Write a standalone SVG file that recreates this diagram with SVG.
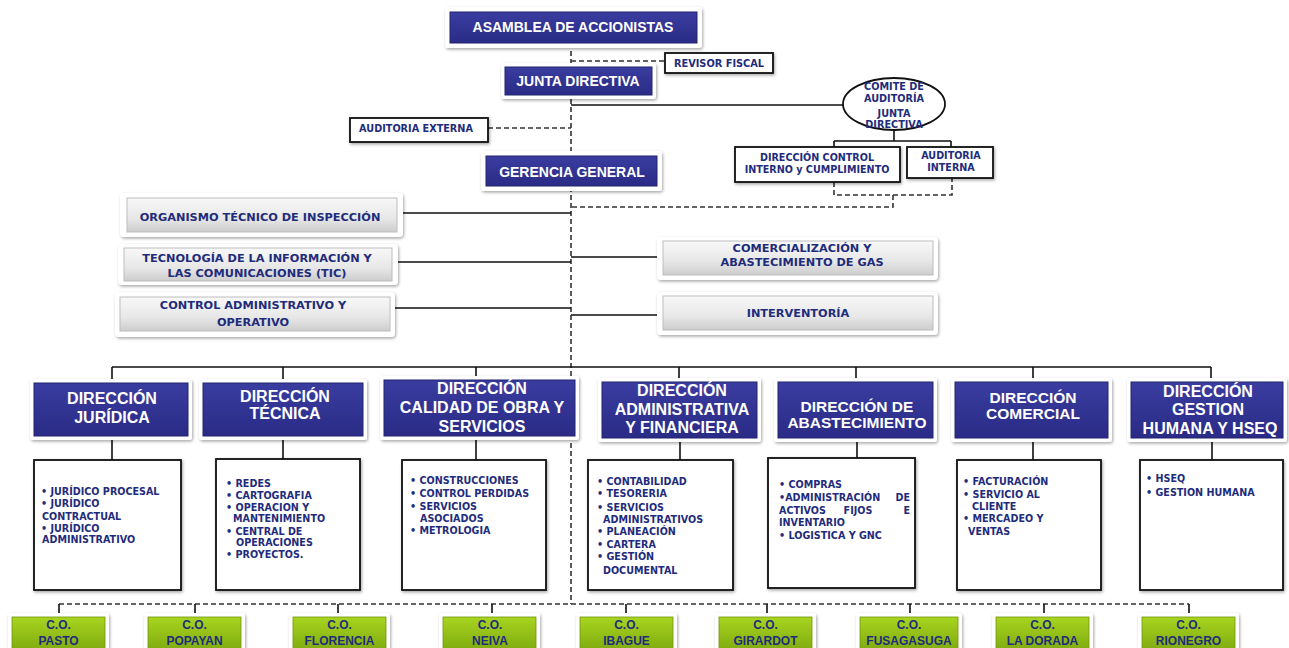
<svg xmlns="http://www.w3.org/2000/svg" width="1289" height="648" viewBox="0 0 1289 648">
<defs>
<linearGradient id="gb" x1="0" y1="0" x2="0" y2="1"><stop offset="0" stop-color="#3a3da0"/><stop offset="1" stop-color="#2a2b86"/></linearGradient>
<linearGradient id="gg" x1="0" y1="0" x2="0" y2="1"><stop offset="0" stop-color="#f8f8f8"/><stop offset="0.6" stop-color="#e7e7e7"/><stop offset="1" stop-color="#cdcdcd"/></linearGradient>
<linearGradient id="gr" x1="0" y1="0" x2="0" y2="1"><stop offset="0" stop-color="#a8d420"/><stop offset="1" stop-color="#7ca80e"/></linearGradient>
<filter id="sh" x="-10%" y="-20%" width="120%" height="150%"><feDropShadow dx="1" dy="1.5" stdDeviation="1.5" flood-color="#000" flood-opacity="0.35"/></filter>
</defs>
<style>
.a{font-family:"Liberation Sans",Arial,sans-serif;font-weight:bold}
.d{font-family:"DejaVu Sans",Verdana,sans-serif;font-weight:bold}
.w{fill:#fff}
.n{fill:#1f2c7c}
.m{text-anchor:middle}
.e{text-anchor:end}
.ln{stroke:#111;stroke-width:1.6;fill:none}
.ds{stroke:#333;stroke-width:1.6;stroke-dasharray:5 3;fill:none}
.bx{fill:#fff;stroke:#111;stroke-width:1.8;filter:url(#sh)}
.fr{fill:#fff;filter:url(#sh)}
.bl{fill:url(#gb);stroke:#23256e;stroke-width:1}
.gy{fill:url(#gg);stroke:#bdbdbd;stroke-width:1}
.gn{fill:url(#gr);stroke:#6f960c;stroke-width:0.8}
.s{font-size:9.6px}
.g{font-size:11.3px}
.b{font-size:16px}
.c{font-size:12px}
</style>
<rect width="1289" height="648" fill="#fff"/>
<g id="connectors">
<path class="ds" d="M571 43V604"/>
<path class="ds" d="M571 61H665"/>
<path class="ds" d="M488 128H571"/>
<path class="ds" d="M834 182V195H952V178M893 195V207H571"/>
<path class="ds" d="M59 604H1189"/>
<path class="ln" d="M571 105H843"/>
<path class="ln" d="M894 130V141M834 141H951M834 141V147M951 141V147"/>
<path class="ln" d="M403 213H571M398 262H571M395 308H571M571 257H657M571 315H657"/>
<path class="ln" d="M112 367H1211M112 367V379M283 367V379M476 367V377M679 367V378M856 367V378M1033 367V378M1211 367V378"/>
<path class="ln" d="M112 440V460M283 440V459M476 440V460M680 442V460M857 442V458M1033 442V460M1212 442V460"/>
<path class="ln" stroke-width="2.2" d="M59 604V613M195 604V613M338 604V613M492 604V613M626 604V613M767 604V613M910 604V613M1044 604V613M1189 604V613"/>
</g>
<g id="asamblea"><rect class="fr" x="445" y="7" width="257" height="41" rx="3"/><rect class="bl" x="450" y="12" width="247" height="31"/><text class="a w m" x="573" y="32" font-size="14">ASAMBLEA DE ACCIONISTAS</text></g>
<g id="revisor"><rect class="bx" x="665" y="53" width="108" height="20"/><text class="d n m" x="719" y="66.5" font-size="9.8">REVISOR FISCAL</text></g>
<g id="junta"><rect class="fr" x="501" y="63" width="155" height="36" rx="3"/><rect class="bl" x="505" y="67" width="147" height="28"/><text class="a w m" x="578" y="86" font-size="14">JUNTA DIRECTIVA</text></g>
<g id="comite"><ellipse cx="894" cy="104" rx="51" ry="26" fill="#fff" stroke="#111" stroke-width="1.8"/><text class="d n m" font-size="9.7"><tspan x="894" y="89.5">COMITE DE</tspan><tspan x="894" y="101.5">AUDITORÍA</tspan><tspan x="894" y="116.5">JUNTA</tspan><tspan x="894" y="127.5">DIRECTIVA</tspan></text></g>
<g id="auditoria-externa"><rect class="bx" x="350" y="118" width="138" height="24"/><text class="d n m" x="416" y="131.5" font-size="9.7">AUDITORIA EXTERNA</text></g>
<g id="control-interno"><rect class="bx" x="735" y="147" width="165" height="35"/><text class="d n m" font-size="9.6"><tspan x="817" y="160.5">DIRECCIÓN CONTROL</tspan><tspan x="817" y="172.5">INTERNO y CUMPLIMIENTO</tspan></text></g>
<g id="auditoria-interna"><rect class="bx" x="907" y="147" width="86" height="31"/><text class="d n m" font-size="9.6"><tspan x="951" y="158.5">AUDITORIA</tspan><tspan x="951" y="170.5">INTERNA</tspan></text></g>
<g id="gerencia"><rect class="fr" x="481" y="151" width="181" height="40" rx="3"/><rect class="bl" x="486" y="156" width="171" height="30"/><text class="a w m" x="572" y="177" font-size="14">GERENCIA GENERAL</text></g>
<g id="organismo"><rect class="fr" x="120" y="193" width="283" height="44" rx="4"/><rect class="gy" x="127" y="198" width="270" height="34"/><text class="d n m g" x="260" y="221">ORGANISMO TÉCNICO DE INSPECCIÓN</text></g>
<g id="tic"><rect class="fr" x="118" y="244" width="280" height="41" rx="4"/><rect class="gy" x="124" y="248" width="268" height="33"/><text class="d n m g"><tspan x="257" y="262">TECNOLOGÍA DE LA INFORMACIÓN Y</tspan><tspan x="257" y="277">LAS COMUNICACIONES  (TIC)</tspan></text></g>
<g id="control-administrativo"><rect class="fr" x="115" y="292" width="280" height="45" rx="4"/><rect class="gy" x="120" y="297" width="270" height="34"/><text class="d n m g"><tspan x="253" y="309">CONTROL ADMINISTRATIVO Y</tspan><tspan x="253" y="326">OPERATIVO</tspan></text></g>
<g id="comercializacion"><rect class="fr" x="657" y="237" width="281" height="43" rx="4"/><rect class="gy" x="663" y="241" width="270" height="34"/><text class="d n m g"><tspan x="802" y="252">COMERCIALIZACIÓN Y</tspan><tspan x="802" y="266">ABASTECIMIENTO DE GAS</tspan></text></g>
<g id="interventoria"><rect class="fr" x="657" y="292" width="281" height="43" rx="4"/><rect class="gy" x="663" y="296" width="270" height="34"/><text class="d n m g" x="798" y="317">INTERVENTORÍA</text></g>
<g id="dir-juridica"><rect class="fr" x="30" y="379" width="162" height="61" rx="3"/><rect class="bl" x="34" y="383" width="154" height="53"/><text class="a w m b"><tspan x="112" y="404">DIRECCIÓN</tspan><tspan x="112" y="423">JURÍDICA</tspan></text></g>
<g id="dir-tecnica"><rect class="fr" x="199" y="379" width="168" height="61" rx="3"/><rect class="bl" x="203" y="383" width="160" height="53"/><text class="a w m b"><tspan x="285" y="402">DIRECCIÓN</tspan><tspan x="285" y="419">TÉCNICA</tspan></text></g>
<g id="dir-calidad"><rect class="fr" x="380" y="376" width="199" height="64" rx="3"/><rect class="bl" x="384" y="380" width="191" height="56"/><text class="a w m b"><tspan x="482" y="394">DIRECCIÓN</tspan><tspan x="482" y="413">CALIDAD DE OBRA Y</tspan><tspan x="482" y="432">SERVICIOS</tspan></text></g>
<g id="dir-administrativa"><rect class="fr" x="598" y="378" width="163" height="64" rx="3"/><rect class="bl" x="602" y="382" width="155" height="56"/><text class="a w m b"><tspan x="682" y="396">DIRECCIÓN</tspan><tspan x="682" y="415">ADMINISTRATIVA</tspan><tspan x="682" y="433">Y FINANCIERA</tspan></text></g>
<g id="dir-abastecimiento"><rect class="fr" x="774" y="378" width="163" height="64" rx="3"/><rect class="bl" x="778" y="382" width="155" height="56"/><text class="a w m" font-size="15.5"><tspan x="857" y="412">DIRECCIÓN DE</tspan><tspan x="857" y="428">ABASTECIMIENTO</tspan></text></g>
<g id="dir-comercial"><rect class="fr" x="951" y="378" width="161" height="64" rx="3"/><rect class="bl" x="955" y="382" width="153" height="56"/><text class="a w m" font-size="15.5"><tspan x="1033" y="403">DIRECCIÓN</tspan><tspan x="1033" y="419">COMERCIAL</tspan></text></g>
<g id="dir-gestion-humana"><rect class="fr" x="1127" y="378" width="160" height="64" rx="3"/><rect class="bl" x="1131" y="382" width="152" height="56"/><text class="a w m b"><tspan x="1208" y="397">DIRECCIÓN</tspan><tspan x="1208" y="415">GESTION</tspan><tspan x="1210" y="434">HUMANA Y HSEQ</tspan></text></g>
<g id="sub-juridica"><rect class="bx" x="34" y="460" width="147" height="130"/><text class="d n s"><tspan x="41" y="495">• JURÍDICO PROCESAL</tspan><tspan x="41" y="507">• JURÍDICO</tspan><tspan x="42" y="519.5">CONTRACTUAL</tspan><tspan x="41" y="531.5">• JURÍDICO</tspan><tspan x="42" y="543">ADMINISTRATIVO</tspan></text></g>
<g id="sub-tecnica"><rect class="bx" x="216" y="459" width="144" height="131"/><text class="d n s"><tspan x="226" y="486.5">• REDES</tspan><tspan x="226" y="498.5">• CARTOGRAFIA</tspan><tspan x="226" y="510.5">• OPERACION Y</tspan><tspan x="233" y="521.5">MANTENIMIENTO</tspan><tspan x="226" y="534.5">• CENTRAL DE</tspan><tspan x="236" y="545.5">OPERACIONES</tspan><tspan x="226" y="557.5">• PROYECTOS.</tspan></text></g>
<g id="sub-calidad"><rect class="bx" x="402" y="460" width="144" height="130"/><text class="d n s"><tspan x="410" y="483.5">• CONSTRUCCIONES</tspan><tspan x="410" y="497">• CONTROL PERDIDAS</tspan><tspan x="410" y="510">• SERVICIOS</tspan><tspan x="420" y="522">ASOCIADOS</tspan><tspan x="410" y="534">• METROLOGIA</tspan></text></g>
<g id="sub-administrativa"><rect class="bx" x="588" y="460" width="145" height="130"/><text class="d n s"><tspan x="597" y="484.5">• CONTABILIDAD</tspan><tspan x="597" y="497">• TESORERIA</tspan><tspan x="597" y="511">• SERVICIOS</tspan><tspan x="603" y="523">ADMINISTRATIVOS</tspan><tspan x="597" y="535">• PLANEACIÓN</tspan><tspan x="597" y="548">• CARTERA</tspan><tspan x="597" y="560">• GESTIÓN</tspan><tspan x="603" y="574">DOCUMENTAL</tspan></text></g>
<g id="sub-abastecimiento"><rect class="bx" x="768" y="458" width="147" height="130"/><text class="d n s"><tspan x="779" y="488">• COMPRAS</tspan><tspan x="779" y="501">•ADMINISTRACIÓN</tspan><tspan x="779" y="513.5">ACTIVOS</tspan><tspan x="779" y="525.5">INVENTARIO</tspan><tspan x="779" y="539">• LOGISTICA Y GNC</tspan></text><text class="d n s e" x="910" y="501">DE</text><text class="d n s m" x="858" y="513.5">FIJOS</text><text class="d n s e" x="910" y="513.5">E</text></g>
<g id="sub-comercial"><rect class="bx" x="957" y="460" width="144" height="130"/><text class="d n s"><tspan x="963" y="484.5">• FACTURACIÓN</tspan><tspan x="963" y="497.5">• SERVICIO AL</tspan><tspan x="972" y="509.5">CLIENTE</tspan><tspan x="963" y="521.5">• MERCADEO Y</tspan><tspan x="968" y="534.5">VENTAS</tspan></text></g>
<g id="sub-gestion-humana"><rect class="bx" x="1140" y="460" width="143" height="130"/><text class="d n s"><tspan x="1146" y="481.5">• HSEQ</tspan><tspan x="1146" y="495.5">• GESTION HUMANA</tspan></text></g>
<g id="co-pasto"><rect class="fr" x="8" y="613" width="101" height="42" rx="3"/><rect class="gn" x="12" y="617" width="93" height="36"/><text class="a n m c"><tspan x="58.5" y="629">C.O.</tspan><tspan x="58.5" y="645">PASTO</tspan></text></g>
<g id="co-popayan"><rect class="fr" x="144" y="613" width="101" height="42" rx="3"/><rect class="gn" x="148" y="617" width="93" height="36"/><text class="a n m c"><tspan x="194.5" y="629">C.O.</tspan><tspan x="194.5" y="645">POPAYAN</tspan></text></g>
<g id="co-florencia"><rect class="fr" x="289" y="613" width="101" height="42" rx="3"/><rect class="gn" x="293" y="617" width="93" height="36"/><text class="a n m c"><tspan x="339.5" y="629">C.O.</tspan><tspan x="339.5" y="645">FLORENCIA</tspan></text></g>
<g id="co-neiva"><rect class="fr" x="439" y="613" width="101" height="42" rx="3"/><rect class="gn" x="443" y="617" width="93" height="36"/><text class="a n m c"><tspan x="490" y="629">C.O.</tspan><tspan x="490" y="645">NEIVA</tspan></text></g>
<g id="co-ibague"><rect class="fr" x="576" y="613" width="101" height="42" rx="3"/><rect class="gn" x="580" y="617" width="93" height="36"/><text class="a n m c"><tspan x="626.5" y="629">C.O.</tspan><tspan x="626.5" y="645">IBAGUE</tspan></text></g>
<g id="co-girardot"><rect class="fr" x="715" y="613" width="101" height="42" rx="3"/><rect class="gn" x="719" y="617" width="93" height="36"/><text class="a n m c"><tspan x="765.5" y="629">C.O.</tspan><tspan x="765.5" y="645">GIRARDOT</tspan></text></g>
<g id="co-fusagasuga"><rect class="fr" x="856" y="613" width="106" height="42" rx="3"/><rect class="gn" x="860" y="617" width="98" height="36"/><text class="a n m c"><tspan x="909" y="629">C.O.</tspan><tspan x="909" y="645">FUSAGASUGA</tspan></text></g>
<g id="co-la-dorada"><rect class="fr" x="992" y="613" width="101" height="42" rx="3"/><rect class="gn" x="996" y="617" width="93" height="36"/><text class="a n m c"><tspan x="1042.5" y="629">C.O.</tspan><tspan x="1042.5" y="645">LA DORADA</tspan></text></g>
<g id="co-rionegro"><rect class="fr" x="1138" y="613" width="101" height="42" rx="3"/><rect class="gn" x="1142" y="617" width="93" height="36"/><text class="a n m c"><tspan x="1188.5" y="629">C.O.</tspan><tspan x="1188.5" y="645">RIONEGRO</tspan></text></g>
</svg>
